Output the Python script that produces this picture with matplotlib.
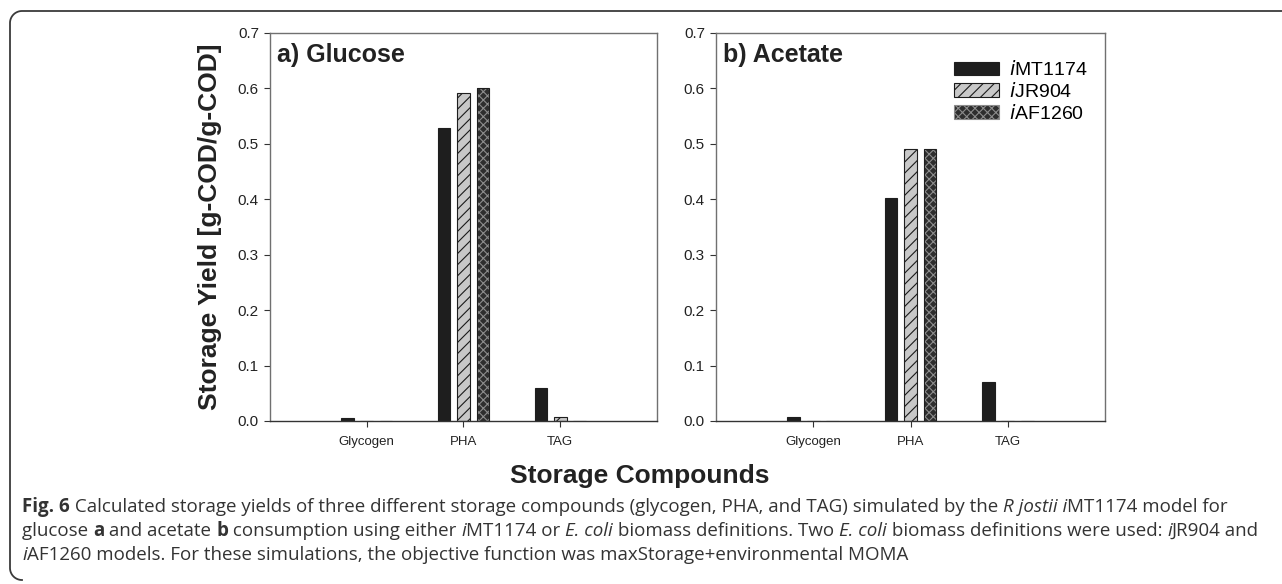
import matplotlib
matplotlib.use("Agg")
import matplotlib.pyplot as plt
import numpy as np
from matplotlib.lines import Line2D
from matplotlib.patches import Patch

categories = ["Glycogen", "PHA", "TAG"]
series = ["iMT1174", "iJR904", "iAF1260"]
glucose_imt1174 = [0.005, 0.528, 0.060]
glucose_ijr904 = [0.0, 0.591, 0.008]
glucose_iaf1260 = [0.0, 0.600, 0.0]
acetate_imt1174 = [0.0065, 0.403, 0.070]
acetate_ijr904 = [0.0, 0.490, 0.0]
acetate_iaf1260 = [0.0, 0.490, 0.0]
yticks = [0.0, 0.1, 0.2, 0.3, 0.4, 0.5, 0.6, 0.7]
panel_titles = ["a) Glucose", "b) Acetate"]

plt.rcParams["font.family"] = ["Liberation Sans", "DejaVu Sans"]
plt.rcParams["hatch.linewidth"] = 0.8

W, H = 1282, 584
fig = plt.figure(figsize=(W / 100, H / 100), dpi=100)

def fx(px):
    return px / W

def fy(py):
    return 1 - py / H

ax_bottom, ax_top = 421, 33
axes_px = [(270, 657), (716, 1105)]

styles = [
    dict(face="#1e1e1e", hatch=None, hcolor=None),
    dict(face="#c8c8c8", hatch="///", hcolor="#1a1a1a"),
    dict(face="#2e2e2e", hatch="xxxx", hcolor="#8c8c8c"),
]

data = [
    [glucose_imt1174, glucose_ijr904, glucose_iaf1260],
    [acetate_imt1174, acetate_ijr904, acetate_iaf1260],
]

x = np.arange(1, len(categories) + 1)
offsets = [-0.2, 0.0, 0.2]
bw = 0.13
spine_col = "#707070"

axes = []
for i, (x0, x1) in enumerate(axes_px):
    ax = fig.add_axes([fx(x0), fy(ax_bottom), fx(x1) - fx(x0), fy(ax_top) - fy(ax_bottom)])
    axes.append(ax)
    for j, vals in enumerate(data[i]):
        st = styles[j]
        if st["hatch"] is None:
            ax.bar(x + offsets[j], vals, bw, color=st["face"], edgecolor="#1e1e1e", linewidth=0.8)
        else:
            ax.bar(x + offsets[j], vals, bw, color=st["face"], edgecolor=st["hcolor"],
                   hatch=st["hatch"], linewidth=0)
            ax.bar(x + offsets[j], vals, bw, fill=False, edgecolor="#1e1e1e", linewidth=0.8)
    ax.set_xlim(0, 4)
    ax.set_ylim(0, 0.7)
    ax.set_yticks(yticks)
    ax.set_yticklabels([f"{v:.1f}" for v in yticks])
    ax.set_xticks(x)
    ax.set_xticklabels(categories, fontsize=9.5)
    ax.tick_params(axis="y", direction="out", length=4, width=0.8, pad=4, labelsize=11,
                   color="#333333", labelcolor="#222222")
    ax.tick_params(axis="x", direction="out", length=4, width=0.8, pad=7,
                   color="#333333", labelcolor="#222222")
    for s in ["top", "right", "left"]:
        ax.spines[s].set_color(spine_col)
        ax.spines[s].set_linewidth(1.0)
    ax.spines["bottom"].set_color("#333333")
    ax.spines["bottom"].set_linewidth(1.0)
    ax.text(0.018, 0.975, panel_titles[i], transform=ax.transAxes, ha="left", va="top",
            fontsize=18, fontweight="bold", color="#222222")

handles = []
for j, st in enumerate(styles):
    if st["hatch"] is None:
        handles.append(Patch(facecolor=st["face"], edgecolor="#1e1e1e", linewidth=0.8))
    else:
        handles.append(Patch(facecolor=st["face"], edgecolor=st["hcolor"], hatch=st["hatch"], linewidth=0.8))
labels = ["$\\it{i}$" + s[1:] for s in series]
axes[1].legend(handles, labels, loc="upper right", bbox_to_anchor=(0.975, 0.95), frameon=False,
               fontsize=14, handlelength=2.35, handleheight=0.7, handletextpad=0.5,
               labelspacing=0.15, borderaxespad=0)

fig.text(fx(210), (fy(ax_bottom) + fy(ax_top)) / 2, "Storage Yield [g-COD/g-COD]", rotation=90,
         ha="center", va="center", fontsize=19, fontweight="bold", color="#222222")
fig.text(fx(640), fy(476), "Storage Compounds", ha="center", va="center", fontsize=19,
         fontweight="bold", color="#222222")

# caption
cap_font = ["Open Sans", "DejaVu Sans"]
cap_size = 13.5
cap_lines = [
    [("Fig. 6", "bold", "normal"), (" Calculated storage yields of three different storage compounds (glycogen, PHA, and TAG) simulated by the ", "normal", "normal"),
     ("R jostii i", "normal", "italic"), ("MT1174 model for", "normal", "normal")],
    [("glucose ", "normal", "normal"), ("a", "bold", "normal"), (" and acetate ", "normal", "normal"), ("b", "bold", "normal"),
     (" consumption using either ", "normal", "normal"), ("i", "normal", "italic"), ("MT1174 or ", "normal", "normal"),
     ("E. coli", "normal", "italic"), (" biomass definitions. Two ", "normal", "normal"), ("E. coli", "normal", "italic"),
     (" biomass definitions were used: ", "normal", "normal"), ("i", "normal", "italic"), ("JR904 and", "normal", "normal")],
    [("i", "normal", "italic"), ("AF1260 models. For these simulations, the objective function was maxStorage+environmental MOMA", "normal", "normal")],
]
cap_y = [512, 536, 560]
fig.canvas.draw()
renderer = fig.canvas.get_renderer()
for line, yb in zip(cap_lines, cap_y):
    xpos = 22
    for txt, wt, sty in line:
        t = fig.text(fx(xpos), fy(yb), txt, ha="left", va="baseline", fontsize=cap_size,
                     fontweight=wt, fontstyle=sty, family=cap_font, color="#333333")
        bb = t.get_window_extent(renderer=renderer)
        xpos += bb.width

# outer bracket frame
r = 12
fc = "#3a3a3a"
top_y, left_x, bot_y = 11, 10, 580
theta = np.linspace(np.pi / 2, np.pi, 20)
arc_x = left_x + r + r * np.cos(theta)
arc_y = top_y + r - r * np.sin(theta)
xs = list(np.r_[W, arc_x, left_x])
ys = list(np.r_[top_y, arc_y, bot_y - r])
theta2 = np.linspace(np.pi, 1.5 * np.pi, 20)
xs += list(left_x + r + r * np.cos(theta2))
ys += list(bot_y - r - r * np.sin(theta2))
fig.add_artist(Line2D([fx(v) for v in xs], [fy(v) for v in ys], transform=fig.transFigure,
                      color=fc, linewidth=1.3))

fig.savefig("out.png", dpi=100)
